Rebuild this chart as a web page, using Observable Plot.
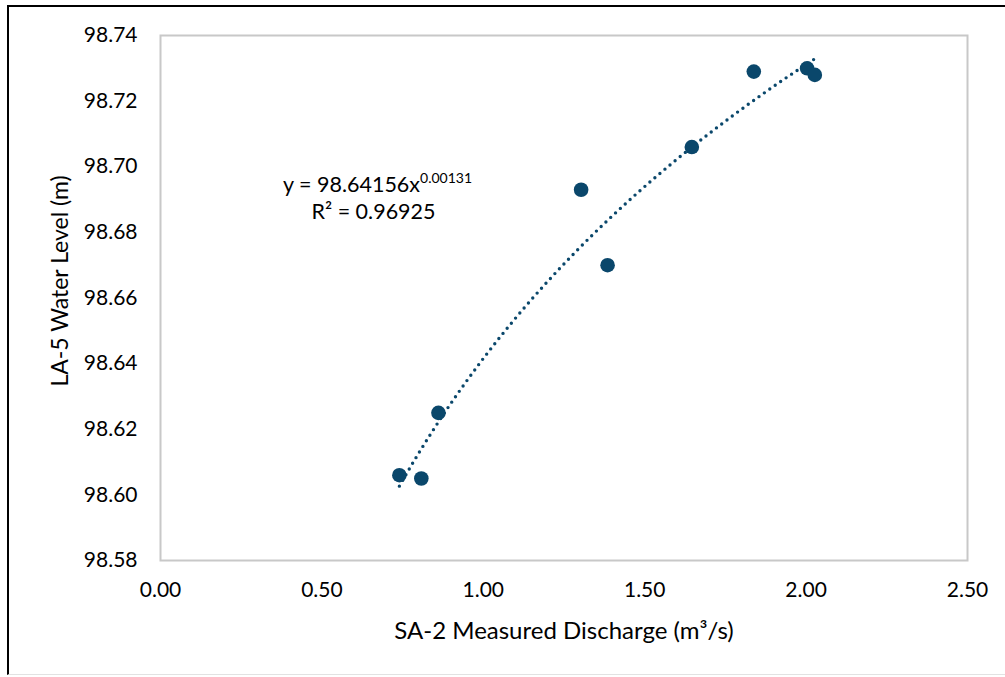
<!DOCTYPE html>
<html><head><meta charset="utf-8">
<script src="https://cdn.jsdelivr.net/npm/d3@7"></script>
<script src="https://cdn.jsdelivr.net/npm/@observablehq/plot@0.6"></script>
<style>
body{margin:0;background:#fff;}
#wrap{position:relative;width:1005px;height:677px;overflow:hidden;}
#wrap svg{position:absolute;left:0;top:0;}
#border{position:absolute;left:7px;top:5px;width:1100px;height:667px;border-left:2.5px solid #000;border-top:2.5px solid #000;border-bottom:1px solid #e2e2e2;pointer-events:none;}
</style></head><body><div id="wrap"><div id="border"></div></div>
<script>
// Data
const discharge  = [0.740, 0.808, 0.861, 1.303, 1.385, 1.646, 1.838, 2.003, 2.027];
const waterLevel = [98.606, 98.605, 98.625, 98.693, 98.670, 98.706, 98.729, 98.730, 98.728];
const xTicks = [0, 0.5, 1.0, 1.5, 2.0, 2.5];
const yTicks = [98.58, 98.60, 98.62, 98.64, 98.66, 98.68, 98.70, 98.72, 98.74];
// Power trendline shown in chart: y = a * x^b
const trendA = 98.64156, trendB = 0.00131;
const eqMain = "y = 98.64156x", eqExp = "0.00131", r2Label = "R² = 0.96925";
const xTitle = "SA-2 Measured Discharge (m³/s)";
const yTitle = "LA-5 Water Level (m)";

const points = discharge.map((x, i) => ({x, y: waterLevel[i]}));
const xMin = d3.min(discharge), xMax = d3.max(discharge);
const trend = d3.range(0, 101).map(i => {
  const x = xMin + (xMax - xMin) * i / 100;
  return {x, y: trendA * Math.pow(x, trendB)};
});

const color = "#0a476b";
const chart = Plot.plot({
  width: 1005, height: 677,
  marginLeft: 160, marginTop: 35, marginRight: 38, marginBottom: 117,
  style: {fontFamily: "Lato, sans-serif", fontSize: "21px", color: "#000", background: "transparent"},
  x: {domain: [0, 2.5]},
  y: {domain: [98.58, 98.74]},
  marks: [
    Plot.frame({stroke: "#c8c8c8", strokeWidth: 2}),
    Plot.axisX({ticks: xTicks, tickSize: 0, tickPadding: 22, tickFormat: d => d.toFixed(2), label: null, fill: "#000"}),
    Plot.axisY({ticks: yTicks, tickSize: 0, tickPadding: 23, tickFormat: d => d.toFixed(2), label: null, fill: "#000"}),
    Plot.line(trend, {x: "x", y: "y", stroke: color, strokeWidth: 3.4, strokeDasharray: "0 6.6", strokeLinecap: "round"}),
    Plot.dot(points, {x: "x", y: "y", r: 7.3, fill: color, stroke: "none"}),
    Plot.text([xTitle], {frameAnchor: "bottom", dy: 71, fontSize: 24, textAnchor: "middle", lineAnchor: "middle", fill: "#000"}),
    Plot.text([yTitle], {frameAnchor: "left", dx: -100, dy: -17, rotate: -90, fontSize: 23, textAnchor: "middle", lineAnchor: "middle", fill: "#000"}),
    Plot.text([eqMain], {frameAnchor: "top-left", dx: 217, dy: 150, fontSize: 21.5, textAnchor: "middle", lineAnchor: "middle", fill: "#000", className: "eq"}),
    Plot.text([r2Label], {frameAnchor: "top-left", dx: 213, dy: 177, fontSize: 21.5, textAnchor: "middle", lineAnchor: "middle", fill: "#000"})
  ]
});
document.getElementById("wrap").appendChild(chart);
// add superscript exponent to equation
d3.select(chart).selectAll("g.eq text").each(function() {
  const t = d3.select(this);
  t.text(null);
  t.append("tspan").text(eqMain);
  t.append("tspan").attr("font-size", 14).attr("dy", "-0.7em").text(eqExp);
});
</script></body></html>
